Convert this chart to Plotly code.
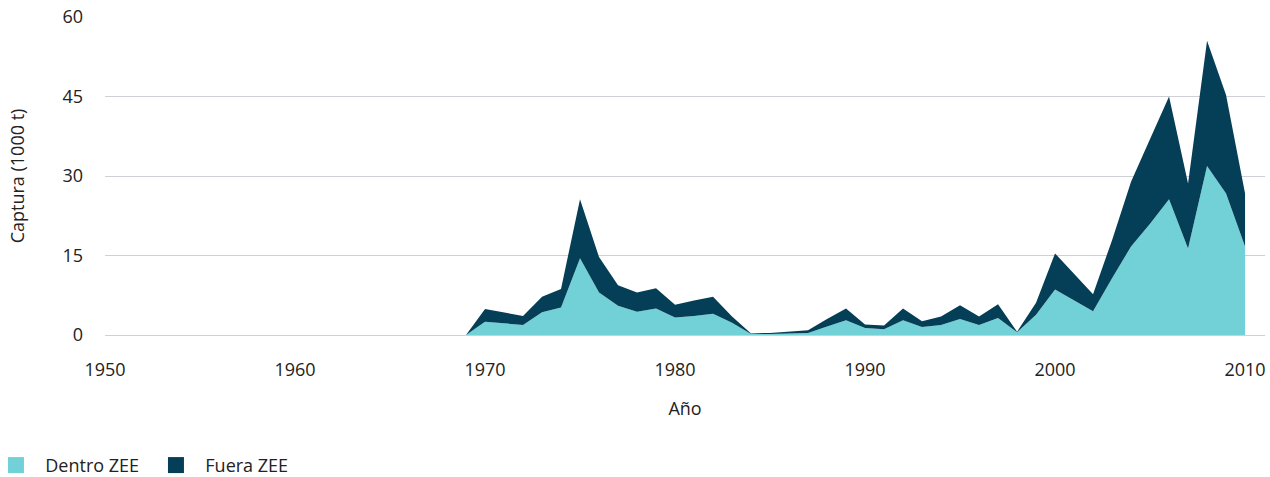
import plotly.graph_objects as go

years = list(range(1950, 2011))
dentro_nonzero = {
    1970: 2.5, 1971: 2.2, 1972: 1.9, 1973: 4.3, 1974: 5.2, 1975: 14.5, 1976: 8.0,
    1977: 5.5, 1978: 4.4, 1979: 5.0, 1980: 3.3, 1981: 3.6, 1982: 4.0, 1983: 2.3,
    1984: 0.2, 1985: 0.2, 1986: 0.3, 1987: 0.4, 1988: 1.6, 1989: 2.8, 1990: 1.3,
    1991: 1.1, 1992: 2.8, 1993: 1.5, 1994: 1.9, 1995: 3.0, 1996: 1.9, 1997: 3.2,
    1998: 0.5, 1999: 3.8, 2000: 8.6, 2001: 6.6, 2002: 4.5, 2003: 10.7, 2004: 16.7,
    2005: 21.0, 2006: 25.6, 2007: 16.3, 2008: 31.9, 2009: 26.7, 2010: 16.7,
}
total_nonzero = {
    1970: 4.9, 1971: 4.2, 1972: 3.6, 1973: 7.2, 1974: 8.7, 1975: 25.6, 1976: 14.7,
    1977: 9.4, 1978: 8.0, 1979: 8.8, 1980: 5.7, 1981: 6.5, 1982: 7.2, 1983: 3.5,
    1984: 0.3, 1985: 0.4, 1986: 0.6, 1987: 0.9, 1988: 3.0, 1989: 5.0, 1990: 2.0,
    1991: 1.8, 1992: 5.0, 1993: 2.6, 1994: 3.5, 1995: 5.6, 1996: 3.5, 1997: 5.8,
    1998: 0.6, 1999: 6.1, 2000: 15.4, 2001: 11.6, 2002: 7.7, 2003: 17.9, 2004: 28.9,
    2005: 37.0, 2006: 45.0, 2007: 28.6, 2008: 55.5, 2009: 45.3, 2010: 26.7,
}
dentro = [dentro_nonzero.get(y, 0.0) for y in years]
fuera = [round(total_nonzero.get(y, 0.0) - dentro_nonzero.get(y, 0.0), 2) for y in years]

series_names = ["Dentro ZEE", "Fuera ZEE"]
series_colors = ["#72D1D6", "#053F57"]
x_ticks = [1950, 1960, 1970, 1980, 1990, 2000, 2010]
y_ticks = [0, 15, 30, 45, 60]

font_family = "Open Sans, Noto Sans, sans-serif"
text_color = "#222222"
fs = 18

fig = go.Figure()
for vals, name, col in zip([dentro, fuera], series_names, series_colors):
    fig.add_trace(go.Scatter(
        x=years, y=vals, name=name, stackgroup="one", mode="lines",
        line=dict(width=0, color=col), fillcolor=col, showlegend=False,
    ))
# legend entries with square swatches
for name, col in zip(series_names, series_colors):
    fig.add_trace(go.Scatter(
        x=[None], y=[None], name="  " + name, mode="markers",
        marker=dict(symbol="square", size=20, color=col), showlegend=True,
    ))

fig.update_layout(
    width=1270, height=477,
    margin=dict(l=105, r=5, t=17, b=142, autoexpand=False),
    paper_bgcolor="white", plot_bgcolor="white",
    font=dict(family=font_family, size=fs, color=text_color),
    showlegend=True,
    legend=dict(
        orientation="h", x=-0.094, xanchor="left", y=-0.41, yanchor="middle",
        font=dict(size=fs, color=text_color), itemwidth=30, traceorder="normal",
        entrywidth=115, entrywidthmode="pixels", bgcolor="rgba(0,0,0,0)",
    ),
    xaxis=dict(
        range=[1950, 2011.05], tickvals=x_ticks, showgrid=False, zeroline=False,
        showline=False, ticks="", ticklabelstandoff=22, automargin=False,
        title=dict(text="Año", standoff=22, font=dict(size=fs)),
    ),
    yaxis=dict(
        range=[0, 60], tickvals=y_ticks, showgrid=True, gridcolor="#D0CED6",
        gridwidth=1, zeroline=True, zerolinecolor="#D0CED6", zerolinewidth=1,
        showline=False, ticks="", ticklabelstandoff=21, automargin=False,
        title=dict(text="Captura (1000 t)", standoff=33, font=dict(size=fs)),
    ),
)

fig.write_html(
    "out.html",
    config={"displayModeBar": False},
    post_script="document.body.style.margin='0';document.body.style.overflow='hidden';",
)
